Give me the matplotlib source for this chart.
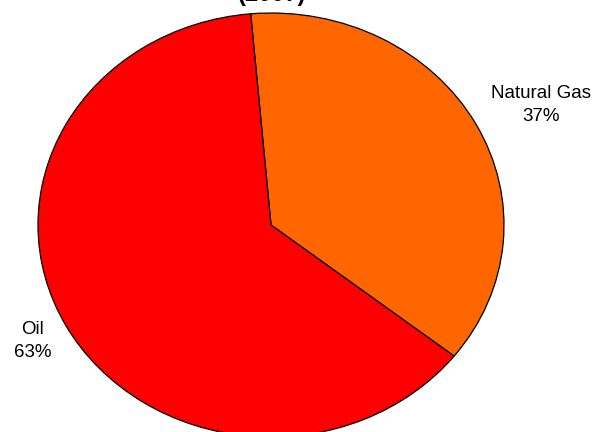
import matplotlib
matplotlib.use("Agg")
import matplotlib.pyplot as plt

# Energy mix shares
sources = ["Natural Gas", "Oil"]
shares = [37, 63]
colors = ["#FF6600", "#FF0000"]

plt.rcParams["font.family"] = ["Liberation Sans", "DejaVu Sans"]

fig = plt.figure(figsize=(5.99, 4.32), dpi=100)
# axes stretched so the unit pie becomes a wide ellipse, bottom runs off the canvas
ax = fig.add_axes([38 / 599, -5 / 432, 466 / 599, 424 / 432])
wedges, _ = ax.pie(shares, colors=colors, startangle=95, counterclock=False,
                   wedgeprops=dict(edgecolor="black", linewidth=0.9))
ax.set_aspect("auto")
ax.set_xlim(-1, 1)
ax.set_ylim(-1, 1)
ax.axis("off")

# slice labels placed outside the rim
label_pos = {"Natural Gas": (541, 105), "Oil": (33, 341)}
for name, pct in zip(sources, shares):
    px, py = label_pos[name]
    fig.text(px / 599, 1 - py / 432, f"{name}\n{pct}%", ha="center", va="center",
             fontsize=13.5, linespacing=1.45)

# title, mostly cut off at the top edge
fig.text(272 / 599, 1 - 6.5 / 432, "(2007)", ha="center", va="bottom",
         fontsize=17, fontweight="bold")

fig.savefig("out.png", dpi=100)
